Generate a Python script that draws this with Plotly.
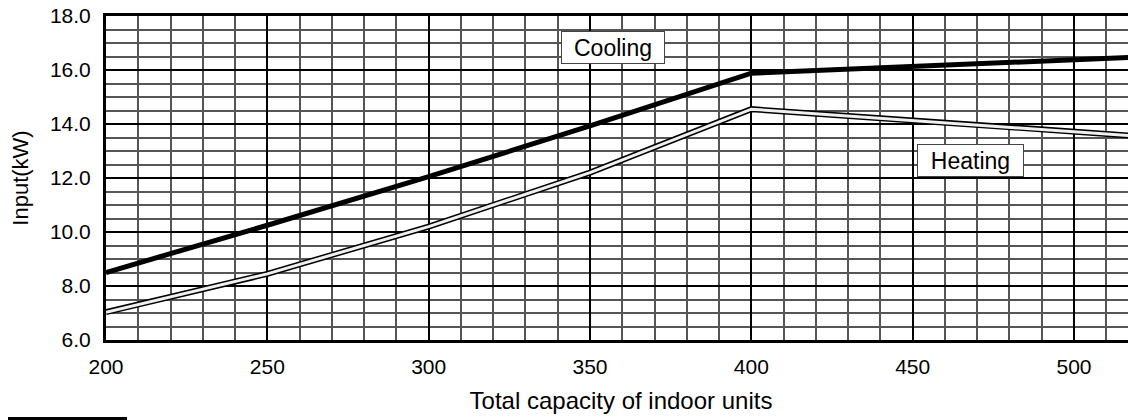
import plotly.graph_objects as go

# Data
capacity = [200, 250, 300, 350, 400, 450, 500, 520]
cooling_kw = [8.5, 10.25, 12.05, 13.93, 15.88, 16.12, 16.38, 16.48]
heating_kw = [7.03, 8.45, 10.2, 12.2, 14.55, 14.12, 13.71, 13.55]

x_ticks = [200, 250, 300, 350, 400, 450, 500]
y_ticks = [6, 8, 10, 12, 14, 16, 18]

# The page body has an 8px default margin, so the figure is made 8px smaller
# and margins are shifted accordingly.
OFF = 8
W, H = 1136 - OFF, 420 - OFF
ML, MR, MT, MB = 106 - OFF, 0, 16 - OFF, 80
PW = W - ML - MR
PH = H - MT - MB

FONT = "Liberation Sans, Arial, sans-serif"

fig = go.Figure()

# Heating: double line (black outline, light centre)
fig.add_trace(go.Scatter(x=capacity, y=heating_kw, mode="lines",
                         line=dict(color="black", width=6), hoverinfo="skip",
                         showlegend=False))
fig.add_trace(go.Scatter(x=capacity, y=heating_kw, mode="lines",
                         line=dict(color="#f0f0f0", width=3), name="Heating",
                         showlegend=False))
# Cooling: thick black line
fig.add_trace(go.Scatter(x=capacity, y=cooling_kw, mode="lines",
                         line=dict(color="black", width=5), name="Cooling",
                         showlegend=False))

x_end = 200 + PW / 3.2267

fig.update_xaxes(
    range=[200, x_end], tickvals=x_ticks, ticks="",
    showgrid=True, gridcolor="black", gridwidth=2,
    minor=dict(dtick=10, tick0=200, showgrid=True, gridcolor="#555555", gridwidth=1.8),
    showline=True, linecolor="black", linewidth=3, mirror=True,
    zeroline=False,
    tickfont=dict(family=FONT, size=21, color="black"),
    ticklabelstandoff=6, ticklabeloverflow="allow",
    title=dict(text="Total capacity of indoor units",
               font=dict(family=FONT, size=24, color="black"), standoff=15),
    automargin=False,
)
fig.update_yaxes(
    range=[6, 18], tickvals=y_ticks, tickformat=".1f", ticks="",
    showgrid=True, gridcolor="black", gridwidth=2,
    minor=dict(dtick=0.5, tick0=6, showgrid=True, gridcolor="#555555", gridwidth=1.8),
    showline=True, linecolor="black", linewidth=3, mirror=False,
    zeroline=False,
    tickfont=dict(family=FONT, size=21, color="black"),
    ticklabelstandoff=8, ticklabeloverflow="allow",
    title=dict(text="Input(kW)", font=dict(family=FONT, size=22, color="black"),
               standoff=22),
    automargin=False,
)

fig.add_annotation(x=357.1, y=16.85, text="Cooling", showarrow=False,
                   font=dict(family=FONT, size=23, color="black"),
                   bgcolor="white", bordercolor="#444444", borderwidth=1,
                   borderpad=0, width=102, height=31)
fig.add_annotation(x=467.9, y=12.64, text="Heating", showarrow=False,
                   font=dict(family=FONT, size=23, color="black"),
                   bgcolor="white", bordercolor="#444444", borderwidth=1,
                   borderpad=0, width=105, height=31)

# small black bar at the bottom-left edge of the original picture (page y 417-420)
bar_top = (MT + PH) - (417 - OFF)
fig.add_shape(type="rect", xref="paper", yref="paper",
              x0=-ML / PW, x1=(127 - 106) / PW,
              y0=(bar_top - 4) / PH, y1=bar_top / PH,
              fillcolor="black", line=dict(width=0))

fig.update_layout(
    width=W, height=H,
    margin=dict(l=ML, r=MR, t=MT, b=MB, pad=0),
    paper_bgcolor="white", plot_bgcolor="white",
    showlegend=False,
)

fig.write_html("out.html")
